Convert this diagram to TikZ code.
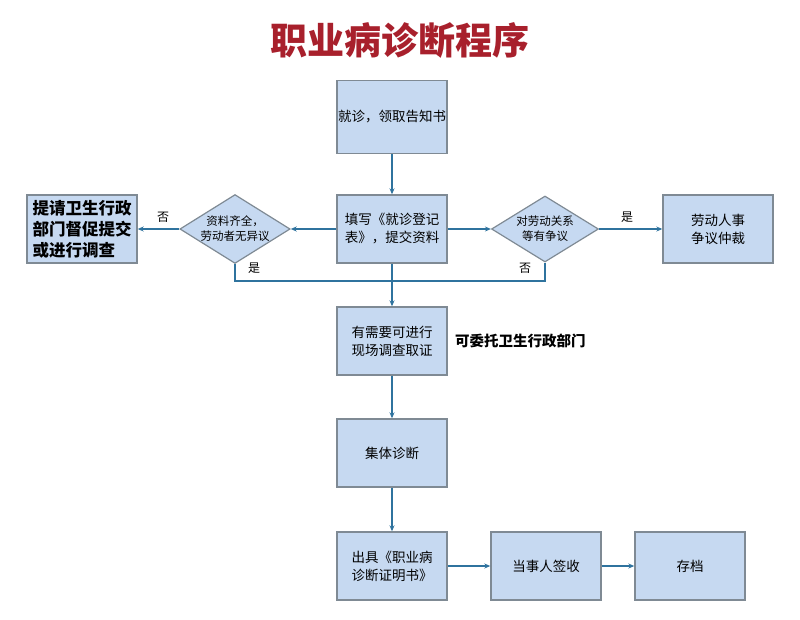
\documentclass[tikz,border=0pt]{standalone}
\usepackage{fontspec}
\setmainfont{Noto Sans CJK SC}
\newfontfamily\cjk{Noto Sans CJK SC}
\usetikzlibrary{shapes.geometric,arrows.meta}
\definecolor{boxfill}{HTML}{C6D9F1}
\definecolor{boxline}{HTML}{7F8A94}
\definecolor{linec}{HTML}{2F739E}
\definecolor{titlec}{HTML}{A8202C}
\tikzset{
  stepbox/.style={draw=boxline,fill=boxfill,line width=1.4pt,minimum width=110pt,minimum height=68pt,inner sep=0pt,align=center,font=\cjk\fontsize{13.5}{18}\selectfont},
  decide/.style={diamond,draw=boxline,fill=boxfill,line width=1.2pt,minimum width=107pt,minimum height=66pt,inner sep=0pt,aspect=1.6,align=center,font=\cjk\fontsize{11.5}{15}\selectfont},
  conn/.style={draw=linec,line width=2pt},
  arr/.style={conn,-{Stealth[length=6pt,width=5pt]}},
  lbl/.style={font=\cjk\fontsize{12}{14}\selectfont,inner sep=0pt}
}
\begin{document}
\begin{tikzpicture}[x=1pt,y=-1pt]
\useasboundingbox (0,0) rectangle (800,619);
\node[font=\cjk\bfseries\fontsize{37}{40}\selectfont,text=titlec] (title) at (400,40) {职业病诊断程序};
\node[stepbox,minimum height=73pt] (b1) at (392,117) {就诊，领取告知书};
\node[stepbox] (b2) at (392,229) {填写《就诊登记\\表》，提交资料};
\node[decide] (d1) at (235,229) {资料齐全，\\劳动者无异议};
\node[stepbox,font=\cjk\bfseries\fontsize{16.5}{21}\selectfont,align=left] (left) at (82,229) {提请卫生行政\\部门督促提交\\或进行调查};
\node[decide] (d2) at (545,229) {对劳动关系\\等有争议};
\node[stepbox] (right) at (718,229) {劳动人事\\争议仲裁};
\node[stepbox] (b3) at (392,341) {有需要可进行\\现场调查取证};
\node[font=\cjk\bfseries\fontsize{14.5}{16}\selectfont,anchor=west,inner sep=0pt] (side) at (455,341) {可委托卫生行政部门};
\node[stepbox] (b4) at (392,453) {集体诊断};
\node[stepbox] (b5) at (392,566) {出具《职业病\\诊断证明书》};
\node[stepbox] (b6) at (546,566) {当事人签收};
\node[stepbox] (b7) at (690,566) {存档};
\coordinate (jl) at (d1.south |- 0,281);
\coordinate (jr) at (d2.south |- 0,281);
\draw[arr] (b1) -- (b2);
\draw[arr] (b2.west) -- (d1.east);
\draw[arr] (d1.west) -- (left.east);
\draw[arr] (b2.east) -- (d2.west);
\draw[arr] (d2.east) -- (right.west);
\draw[conn,line width=2.6pt] (d1.south) -- (jl) -- (jr) -- (d2.south);
\draw[arr] (b2.south) -- (b3.north);
\draw[arr] (b3) -- (b4);
\draw[arr] (b4) -- (b5);
\draw[arr] (b5) -- (b6);
\draw[arr] (b6) -- (b7);
\node[lbl] (n1) at (163,217) {否};
\node[lbl] (y1) at (254,268) {是};
\node[lbl] (y2) at (627,217) {是};
\node[lbl] (n2) at (525,268) {否};
\end{tikzpicture}
\end{document}
